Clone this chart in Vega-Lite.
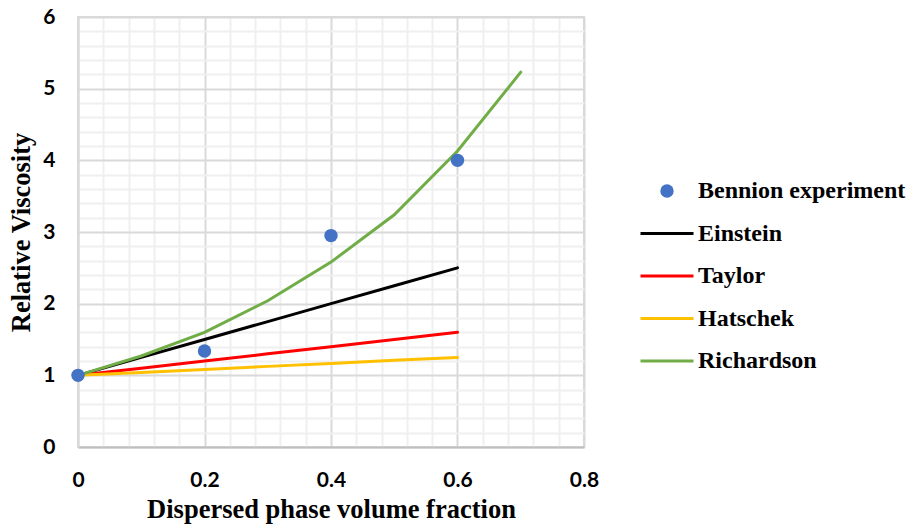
{
  "$schema": "https://vega.github.io/schema/vega-lite/v6.json",
  "autosize": {"type": "none"},
  "padding": {"left": 78, "top": 17, "right": 325, "bottom": 85},
  "width": 506,
  "height": 430,
  "background": "white",
  "config": {
    "view": {"stroke": "#d9d9d9", "strokeWidth": 2},
    "axis": {
      "labelFont": "Lato", "labelFontWeight": "bold", "labelFontSize": 21, "labelColor": "#000000",
      "titleFont": "Liberation Serif", "titleFontWeight": "bold", "titleFontSize": 26.5, "titleColor": "#000000",
      "ticks": false, "tickSize": 0, "labelOverlap": false, "labelFlush": false, "gridWidth": 2
    }
  },
  "data": {
    "values": [
      {"series": "Bennion experiment", "phi": 0, "eta": 1},
      {"series": "Bennion experiment", "phi": 0.2, "eta": 1.34},
      {"series": "Bennion experiment", "phi": 0.4, "eta": 2.95},
      {"series": "Bennion experiment", "phi": 0.6, "eta": 4.0},
      {"series": "Einstein", "phi": 0, "eta": 1},
      {"series": "Einstein", "phi": 0.1, "eta": 1.25},
      {"series": "Einstein", "phi": 0.2, "eta": 1.5},
      {"series": "Einstein", "phi": 0.3, "eta": 1.75},
      {"series": "Einstein", "phi": 0.4, "eta": 2.0},
      {"series": "Einstein", "phi": 0.5, "eta": 2.25},
      {"series": "Einstein", "phi": 0.6, "eta": 2.5},
      {"series": "Taylor", "phi": 0, "eta": 1},
      {"series": "Taylor", "phi": 0.1, "eta": 1.1},
      {"series": "Taylor", "phi": 0.2, "eta": 1.2},
      {"series": "Taylor", "phi": 0.3, "eta": 1.3},
      {"series": "Taylor", "phi": 0.4, "eta": 1.4},
      {"series": "Taylor", "phi": 0.5, "eta": 1.5},
      {"series": "Taylor", "phi": 0.6, "eta": 1.6},
      {"series": "Hatschek", "phi": 0, "eta": 1},
      {"series": "Hatschek", "phi": 0.1, "eta": 1.04},
      {"series": "Hatschek", "phi": 0.2, "eta": 1.08},
      {"series": "Hatschek", "phi": 0.3, "eta": 1.125},
      {"series": "Hatschek", "phi": 0.4, "eta": 1.165},
      {"series": "Hatschek", "phi": 0.5, "eta": 1.21},
      {"series": "Hatschek", "phi": 0.6, "eta": 1.25},
      {"series": "Richardson", "phi": 0, "eta": 1},
      {"series": "Richardson", "phi": 0.1, "eta": 1.27},
      {"series": "Richardson", "phi": 0.2, "eta": 1.6},
      {"series": "Richardson", "phi": 0.3, "eta": 2.04},
      {"series": "Richardson", "phi": 0.4, "eta": 2.58},
      {"series": "Richardson", "phi": 0.5, "eta": 3.24},
      {"series": "Richardson", "phi": 0.6, "eta": 4.13},
      {"series": "Richardson", "phi": 0.7, "eta": 5.23}
    ]
  },
  "encoding": {
    "x": {
      "field": "phi", "type": "quantitative",
      "scale": {"domain": [0, 0.8], "nice": false, "zero": false},
      "axis": {
        "title": "Dispersed phase volume fraction",
        "values": [0, 0.04, 0.08, 0.12, 0.16, 0.2, 0.24, 0.28, 0.32, 0.36, 0.4, 0.44, 0.48, 0.52, 0.56, 0.6, 0.64, 0.68, 0.72, 0.76, 0.8],
        "format": ".1~f",
        "labelExpr": "abs(datum.value*5 - round(datum.value*5)) < 0.001 ? datum.label : ''",
        "gridColor": {"condition": {"test": "abs(datum.value*5 - round(datum.value*5)) < 0.001", "value": "#d9d9d9"}, "value": "#f0f0f0"},
        "domainColor": "#bfbfbf", "domainWidth": 2,
        "labelPadding": 22,
        "titleY": 70, "titleBaseline": "alphabetic"
      }
    },
    "y": {
      "field": "eta", "type": "quantitative",
      "scale": {"domain": [0, 6], "nice": false},
      "axis": {
        "title": "Relative Viscosity",
        "values": [0, 0.2, 0.4, 0.6, 0.8, 1, 1.2, 1.4, 1.6, 1.8, 2, 2.2, 2.4, 2.6, 2.8, 3, 3.2, 3.4, 3.6, 3.8, 4, 4.2, 4.4, 4.6, 4.8, 5, 5.2, 5.4, 5.6, 5.8, 6],
        "format": "~g",
        "labelExpr": "abs(datum.value - round(datum.value)) < 0.001 ? datum.label : ''",
        "gridColor": {"condition": {"test": "abs(datum.value - round(datum.value)) < 0.001", "value": "#d9d9d9"}, "value": "#f0f0f0"},
        "domainColor": "#d9d9d9", "domainWidth": 2,
        "labelPadding": 23,
        "titleX": -49, "titleY": 215, "titleBaseline": "alphabetic"
      }
    },
    "color": {
      "field": "series", "type": "nominal",
      "scale": {
        "domain": ["Bennion experiment", "Einstein", "Taylor", "Hatschek", "Richardson"],
        "range": ["#4472C4", "#000000", "#FF0000", "#FFC000", "#70AD47"]
      },
      "legend": {
        "title": null,
        "orient": "none", "legendX": 562, "legendY": 162,
        "padding": 0,
        "labelFont": "Liberation Serif", "labelFontSize": 24, "labelFontWeight": "bold", "labelColor": "#000000",
        "labelOffset": 5, "rowPadding": 18.5, "labelLimit": 400,
        "symbolSize": 2809, "symbolStrokeWidth": 3,
        "encode": {
          "symbols": {
            "update": {
              "x": {"value": 27},
              "shape": {"signal": "datum.value === 'Bennion experiment' ? 'circle' : 'stroke'"},
              "size": {"signal": "datum.value === 'Bennion experiment' ? 180 : 2809"},
              "fill": {"signal": "datum.value === 'Bennion experiment' ? '#4472C4' : 'transparent'"},
              "stroke": {"signal": "datum.value === 'Bennion experiment' ? 'transparent' : scale('color', datum.value)"},
              "strokeWidth": {"signal": "datum.value === 'Bennion experiment' ? 0 : 3"},
              "opacity": {"value": 1}
            }
          },
          "labels": {
            "update": {
              "x": {"value": 58}
            }
          }
        }
      }
    }
  },
  "layer": [
    {
      "transform": [{"filter": "datum.series !== 'Bennion experiment'"}],
      "mark": {"type": "line", "strokeWidth": 3, "strokeCap": "round"}
    },
    {
      "transform": [{"filter": "datum.series === 'Bennion experiment'"}],
      "mark": {"type": "point", "filled": true, "size": 180, "opacity": 1}
    }
  ]
}
